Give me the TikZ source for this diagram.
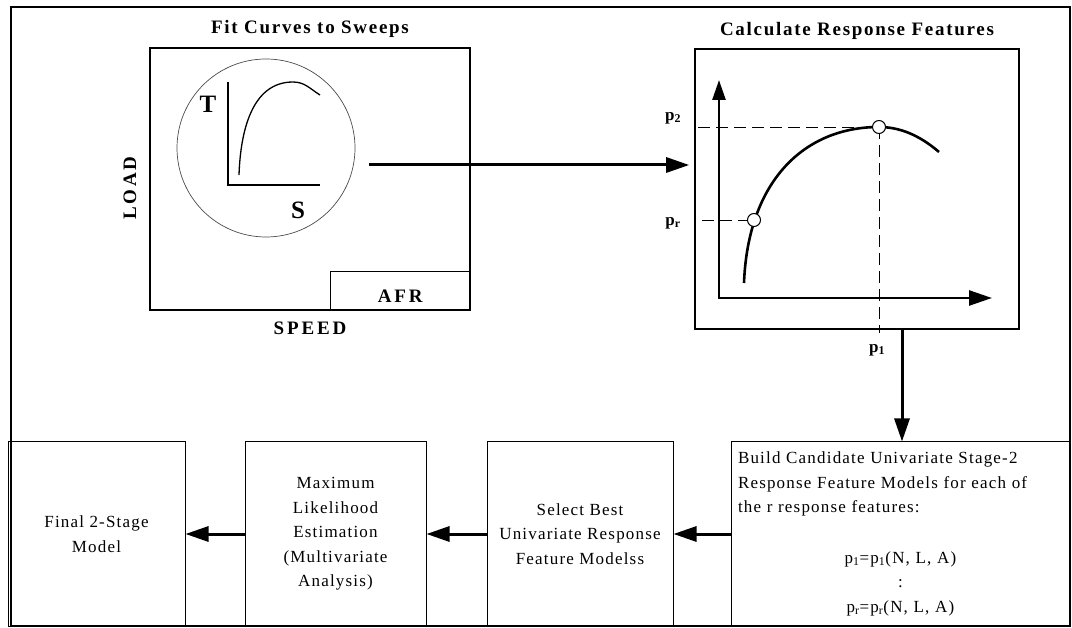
\documentclass[tikz,border=0pt]{standalone}
\usepackage{fontspec}
\setmainfont{Liberation Serif}
\usetikzlibrary{positioning,arrows.meta}

\newcommand{\headfont}{\fontsize{19}{22}\selectfont\bfseries\addfontfeature{LetterSpace=9}}
\newcommand{\tagfont}{\fontsize{19}{22}\selectfont\bfseries\addfontfeature{LetterSpace=15}}
\newcommand{\axisfont}{\fontsize{25}{28}\selectfont\bfseries}
\newcommand{\plabelfont}{\fontsize{17}{20}\selectfont\bfseries}
\newcommand{\boxfont}{\fontsize{17}{24.5}\selectfont\addfontfeature{LetterSpace=7}}

\begin{document}
\begin{tikzpicture}[
  x=1pt, y=1pt,
  panel/.style={draw, line width=1.6pt, inner sep=0pt},
  stagebox/.style={draw, line width=1pt, align=center, inner sep=4pt, minimum height=184pt, font=\boxfont},
  title/.style={inner sep=0pt, font=\headfont},
  tag/.style={inner sep=0pt, font=\tagfont},
  letter/.style={inner sep=0pt, font=\axisfont},
  plabel/.style={inner sep=0pt, font=\plabelfont},
  arrow/.style={-{Triangle[length=23pt,width=15pt]}, line width=3pt},
  axis/.style={{Triangle[length=20pt,width=13pt]}-{Triangle[length=23pt,width=15pt]}, line width=2.6pt},
  guide/.style={dash pattern=on 12pt off 6pt, line width=0.8pt},
  marker/.style={circle, draw, fill=white, line width=1pt, inner sep=0pt, minimum size=13pt}
]
\useasboundingbox (0,0) rectangle (1072,-628);
\draw[line width=1.2pt] (11,-7) rectangle (1070,-626);

% stage 1: sweeps
\node[panel, minimum width=320pt, minimum height=262pt] (fit) at (310,-179) {};
\node[title, above=9pt of fit] (fittitle) {Fit Curves to Sweeps};
\node[tag, below=11pt of fit] (speed) {SPEED};
\node[tag, rotate=90] (load) at (130,-188) {LOAD};
\node[draw, line width=1.2pt, minimum width=140pt, minimum height=39pt, inner sep=0pt,
      text height=23pt, anchor=south east, font=\tagfont] (afr) at (fit.south east) {AFR};
\node[circle, draw=black!70, line width=0.7pt, minimum size=178pt, inner sep=0pt] (sweep) at (266,-148) {};
\draw[line width=1.3pt] (228,-82) -- (228,-185) -- (320,-185);
\draw[line width=1.3pt] (239,-175) to[out=88,in=180] (293,-82) to[out=0,in=148] (320,-95);
\node[letter] (torque) at (208,-104) {T};
\node[letter] (speedaxis) at (298,-210) {S};

% response features
\node[panel, minimum width=324pt, minimum height=280pt] (calc) at (857,-189) {};
\node[title, above=8pt of calc] (calctitle) {Calculate Response Features};
\coordinate (origin) at (719,-298);
\draw[axis] (719,-80) -- (origin) -- (992,-298);
\draw[line width=2.6pt] (744,-283) .. controls (748,-180) and (805,-127) .. (879,-127)
  .. controls (905,-127) and (925,-140) .. (939,-152);
\draw[guide] (698,-127) -- (879,-127);
\draw[guide] (702,-220) -- (754,-220);
\draw[guide] (879,-127) -- (879,-333);
\node[marker] (peak) at (879,-127) {};
\node[marker] (low) at (754,-220) {};
\node[plabel] (ptwo) at (673,-118) {p\textsubscript{2}};
\node[plabel] (pr) at (673,-223) {p\textsubscript{r}};
\node[plabel] (pone) at (877,-350) {p\textsubscript{1}};

% stage 2 chain
\node[stagebox, minimum width=339pt, text width=325pt, align=left] (build) at (900.5,-534) {%
Build Candidate Univariate Stage-2\\
Response Feature Models for each of\\
the r response features:\par\vspace{26pt}
{\centering p\textsubscript{1}=p\textsubscript{1}(N, L, A)\\ :\\ p\textsubscript{r}=p\textsubscript{r}(N, L, A)\par}};
\node[stagebox, minimum width=186pt, left=57pt of build] (select) {Select Best\\Univariate Response\\Feature Modelss};
\node[stagebox, minimum width=181pt, left=60pt of select] (mle) {Maximum\\Likelihood\\Estimation\\(Multivariate\\Analysis)};
\node[stagebox, minimum width=177pt, left=59pt of mle] (final) {Final 2-Stage\\Model};

\coordinate (sweepout) at (369,-165);
\draw[arrow, shorten >=5pt] (sweepout) -- (sweepout -| calc.west);
\draw[arrow] ([xshift=45pt]calc.south) -- ([xshift=45pt]calc.south |- build.north);
\draw[arrow] (build) -- (select);
\draw[arrow] (select) -- (mle);
\draw[arrow] (mle) -- (final);
\end{tikzpicture}
\end{document}
